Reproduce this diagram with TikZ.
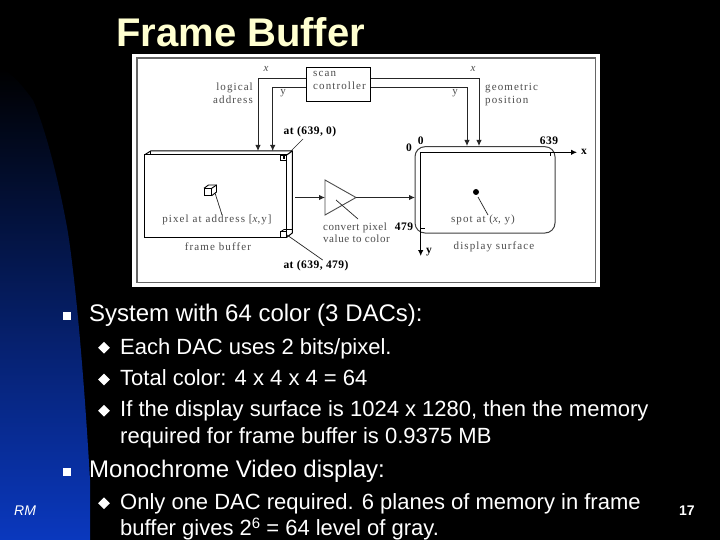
\documentclass[tikz,border=0pt]{standalone}
\usepackage{fontspec}
\setmainfont{Liberation Sans}
\newfontfamily\figfont[LetterSpace=10]{Liberation Serif}
\newfontfamily\figtight[LetterSpace=5]{Liberation Serif}
\newfontfamily\figbold[LetterSpace=4]{Liberation Serif}
\usetikzlibrary{arrows.meta,shapes.geometric}
\definecolor{slideblue}{HTML}{0A38BE}
\definecolor{slidemid}{HTML}{06288F}
\definecolor{titlecream}{HTML}{FFFFD0}
\definecolor{figgray}{HTML}{4C4C4C}
\tikzset{
	bodyline/.style={anchor=base west,text=white,inner sep=0,font=\fontsize{24}{26}\selectfont},
	subline/.style={anchor=base west,text=white,inner sep=0,font=\fontsize{22}{24}\selectfont},
	figlabel/.style={text=figgray,inner sep=0,font=\figfont\fontsize{11}{13}\selectfont},
	figitalic/.style={text=figgray,inner sep=0,font=\figfont\itshape\fontsize{11}{13}\selectfont},
	figtext/.style={text=figgray,inner sep=0,font=\figtight\fontsize{11}{13}\selectfont},
	figstrong/.style={text=black,inner sep=0,font=\figbold\bfseries\fontsize{11.5}{13}\selectfont},
	squarebullet/.style={fill=white,minimum size=8,inner sep=0},
	diamondbullet/.style={diamond,fill=white,minimum size=12,inner sep=0},
	wire/.style={line width=1,black!85},
	wirearrow/.style={wire,-{Latex[length=6,width=5.5]}},
	leader/.style={line width=0.7,black!85},
}
\begin{document}
\begin{tikzpicture}[x=1pt,y=-1pt]
	\useasboundingbox (0,0) rectangle (720,540);
	%%%%% SLIDE %%%%%
	\fill[black] (0,0) rectangle (720,540);
	\shade[top color=black,middle color=slidemid,bottom color=slideblue] (0,68) .. controls (12,72) and (24,88) .. (33,100) .. controls (50,140) and (62,200) .. (67,227) .. controls (72,255) and (82,340) .. (90,480) -- (90,540) -- (0,540) -- cycle;
	\node[anchor=base west,text=titlecream,inner sep=0,font=\bfseries\fontsize{40}{44}\selectfont] (title) at (116,47) {Frame Buffer};

	%%%%% FIGURE %%%%%
	\fill[white] (132,54) rectangle (600,287);
	\draw[line width=1.2,black!60] (137,58) rectangle (595.5,282.5);

	% scan controller and its two pairs of lines
	\node[draw,line width=1,minimum width=64,minimum height=34,anchor=north west,inner sep=0] (scan) at (306,66.7) {};
	\node[figlabel,anchor=base west] (scanA) at (313,77) {scan};
	\node[figlabel,anchor=base west] (scanB) at (313,90) {controller};
	\coordinate (fbx) at (258,151);
	\coordinate (fby) at (272.7,151);
	\coordinate (dsx) at (479,146);
	\coordinate (dsy) at (467,146);
	\draw[wirearrow] (scan.west |- 0,78.3) -| (fbx);
	\draw[wirearrow] (scan.west |- 0,87.3) -| (fby);
	\draw[wirearrow] (scan.east |- 0,78.3) -| (dsx);
	\draw[wirearrow] (scan.east |- 0,87.3) -| (dsy);
	\node[figitalic] (lx) at (266,69) {x};
	\node[figlabel] (ly) at (283,93) {y};
	\node[figitalic] (rx) at (473,69) {x};
	\node[figlabel] (ry) at (455,93) {y};
	\node[figlabel,anchor=base east] (logA) at (253,91) {logical};
	\node[figlabel,anchor=base east] (logB) at (253,103.5) {address};
	\node[figlabel,anchor=base west] (geoA) at (485,91) {geometric};
	\node[figlabel,anchor=base west] (geoB) at (485,103.5) {position};

	% frame buffer
	\draw[line width=1] (144.3,155) rectangle (286.7,237.3);
	\draw[line width=1] (144.3,155) -- (150.7,151) -- (292.3,151) -- (292.3,233) -- (286.7,237.3);
	\draw[line width=1] (286.7,155) -- (292.3,151);
	\draw[line width=0.5] (150.7,151) -- (150.7,155);
	\draw[line width=0.7] (280.7,155) rectangle (286.7,160.5);
	\fill (282.5,156.5) rectangle (285,159);
	\draw[line width=0.7] (280.7,231.7) rectangle (286.7,237.3);
	\draw[line width=0.7] (280.7,231.7) -- (284,229.5) -- (292.3,229.5);
	\node[figstrong] (topat) at (310,132) {at (639, 0)};
	\node[figstrong] (botat) at (316,266) {at (639, 479)};
	\coordinate (topcorner) at (290,152);
	\coordinate (botcorner) at (287,235);
	\draw[leader] (topcorner) -- (303,139);
	\draw[leader] (botcorner) -- (322.7,260);
	\draw[line width=0.9] (204,188.3) rectangle (211.7,195.7);
	\draw[line width=0.9] (204,188.3) -- (208.5,185) -- (216.5,185) -- (216.5,192) -- (211.7,195.7);
	\draw[line width=0.9] (211.7,188.3) -- (216.5,185);
	\node[figlabel] (pixel) at (217,220) {pixel at address [\textit{x},y]};
	\node[figlabel] (fblabel) at (218,246.7) {frame buffer};
	\coordinate (pixtop) at (215,193);
	\draw[leader] (pixtop) -- (pixel.north -| 222,0);

	% DAC triangle
	\coordinate (dacA) at (325,180);
	\coordinate (dacB) at (325,215);
	\coordinate (dacC) at (356,197.5);
	\draw[line width=0.9,black!70] (dacA) -- (dacC) -- (dacB) -- cycle;
	\coordinate (fbout) at (295,197.5);
	\coordinate (dsin) at (415,197.5);
	\draw[wirearrow] (fbout) -- (dacA |- fbout);
	\draw[wirearrow] (dacC) -- (dsin);
	\draw[leader] (336,200) -- (358,219);
	\node[figtext,anchor=base west] (convA) at (323,230.5) {convert pixel};
	\node[figtext,anchor=base west] (convB) at (323,242.5) {value to color};

	% display surface
	\draw[line width=1,black!75,rounded corners=10] (415,146.7) rectangle (555,233);
	\coordinate (origin) at (420.7,152.3);
	\coordinate (xend) at (577,152.3);
	\coordinate (yend) at (420.7,256);
	\draw[wirearrow,black] (origin) -- (xend);
	\draw[wirearrow,black] (origin) -- (yend);
	\draw[line width=0.5] (550,152.3) -- (550,156);
	\draw[line width=0.5] (420.7,228) -- (424.5,228);
	\fill (476,192) circle (3);
	\node[figlabel] (spot) at (483,220) {spot at (\textit{x}, y)};
	\node[figlabel] (dslabel) at (494,247) {display surface};
	\draw[leader] (478,197) -- (488,215);
	\node[figstrong] (zeroA) at (420.7,141) {0};
	\node[figstrong] (zeroB) at (409,148) {0};
	\node[figstrong] (maxx) at (549,141) {639};
	\node[figstrong] (maxy) at (404,227) {479};
	\node[figstrong] (xaxis) at (584,152) {x};
	\node[figstrong] (yaxis) at (429,252.5) {y};

	%%%%% TEXT %%%%%
	\node[squarebullet] (b1) at (67,315.8) {};
	\node[bodyline] (t1) at (89,321) {System with 64 color (3 DACs):};
	\node[diamondbullet] (b2) at (104,347.7) {};
	\node[subline] (t2) at (120,354) {Each DAC uses 2 bits/pixel.};
	\node[diamondbullet] (b3) at (104,379.5) {};
	\node[subline] (t3) at (120,385) {Total color: 4 x 4 x 4 = 64};
	\node[diamondbullet] (b4) at (104,410.7) {};
	\node[subline] (t4) at (120,416) {If the display surface is 1024 x 1280, then the memory};
	\node[subline] (t5) at (120,443) {required for frame buffer is 0.9375 MB};
	\node[squarebullet] (b5) at (67,471.5) {};
	\node[bodyline] (t6) at (89,477) {Monochrome Video display:};
	\node[diamondbullet] (b6) at (104,503.3) {};
	\node[subline] (t7) at (120,509) {Only one DAC required. 6 planes of memory in frame};
	\node[subline] (t8) at (120,535) {buffer gives 2\raisebox{6.5pt}{\fontsize{15}{16}\selectfont 6} = 64 level of gray.};
	\node[anchor=base west,text=white,inner sep=0,font=\itshape\fontsize{14}{16}\selectfont] (rm) at (14,515) {RM};
	\node[anchor=base west,text=white,inner sep=0,font=\bfseries\fontsize{14}{16}\selectfont] (page) at (679,515) {17};
\end{tikzpicture}
\end{document}
